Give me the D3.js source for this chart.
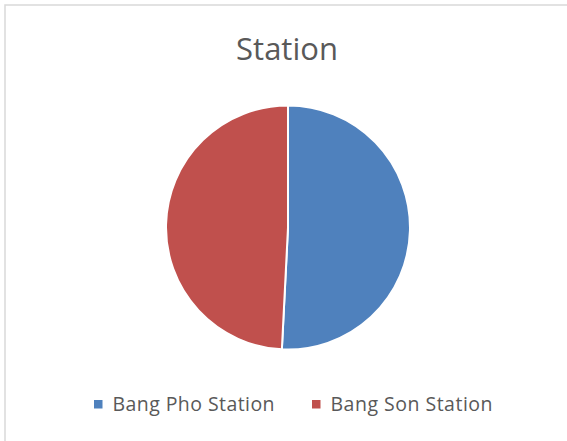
<!DOCTYPE html>
<html>
<head>
<meta charset="utf-8">
<script src="https://cdn.jsdelivr.net/npm/d3@7"></script>
<style>
  html, body { margin: 0; padding: 0; background: #fff; }
  svg { display: block; }
</style>
</head>
<body>
<svg id="chart" width="567" height="441"></svg>
<script>
const title = "Station";
const categories = ["Bang Pho Station", "Bang Son Station"];
const values = [50.8, 49.2];
const colors = ["#4F81BD", "#C0504D"];

const W = 567, H = 441;
const svg = d3.select("#chart");

// chart frame
svg.append("rect")
  .attr("x", 5).attr("y", 5)
  .attr("width", W + 10).attr("height", H + 10)
  .attr("fill", "#fff")
  .attr("stroke", "#D9D9D9").attr("stroke-width", 1.5);

// title
svg.append("text")
  .attr("x", 287).attr("y", 60)
  .attr("text-anchor", "middle")
  .attr("font-family", "'Open Sans', sans-serif")
  .attr("font-size", 31)
  .attr("fill", "#595959")
  .text(title);

// pie
const cx = 288, cy = 227.5, r = 122;
const data = categories.map((c, i) => ({ name: c, value: values[i] }));
const pie = d3.pie().value(d => d.value).sort(null);
const arc = d3.arc().innerRadius(0).outerRadius(r);
const color = d3.scaleOrdinal().domain(categories).range(colors);

svg.append("g")
  .attr("transform", `translate(${cx},${cy})`)
  .selectAll("path")
  .data(pie(data))
  .join("path")
  .attr("d", arc)
  .attr("fill", d => color(d.data.name))
  .attr("stroke", "#fff")
  .attr("stroke-width", 2)
  .attr("stroke-linejoin", "round");

// legend
const legendX = [94, 312];
const lg = svg.append("g");
categories.forEach((c, i) => {
  lg.append("rect")
    .attr("x", legendX[i]).attr("y", 400)
    .attr("width", 8.5).attr("height", 8.5)
    .attr("fill", color(c));
  lg.append("text")
    .attr("x", legendX[i] + 18.5).attr("y", 411)
    .attr("font-family", "'Open Sans', sans-serif")
    .attr("font-size", 19.5)
    .attr("fill", "#595959")
    .attr("textLength", 162)
    .attr("lengthAdjust", "spacing")
    .text(c);
});
</script>
</body>
</html>
